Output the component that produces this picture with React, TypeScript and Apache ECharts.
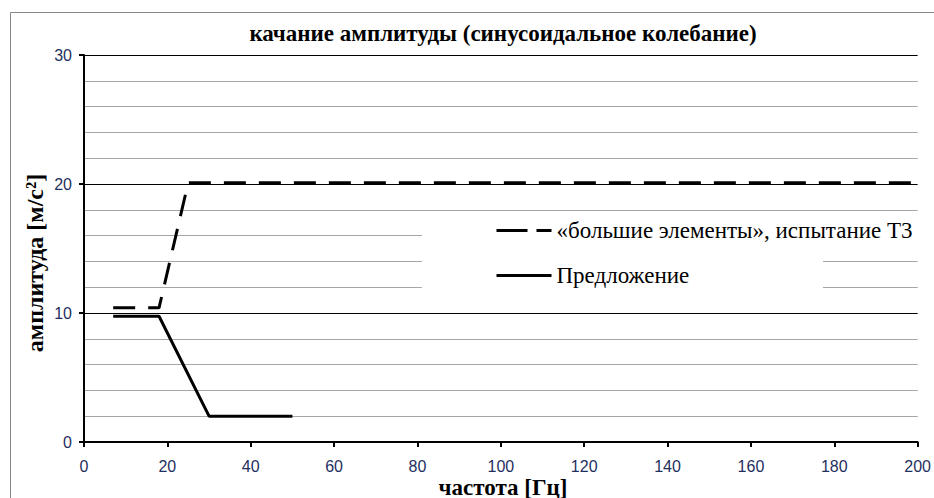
import React, { useEffect, useRef } from "react";
import * as echarts from "echarts";

const titleText = "качание амплитуды (синусоидальное колебание)";
const xAxisName = "частота [Гц]";
const yAxisName = "амплитуда [м/с²]";
const seriesNames = ["«большие элементы», испытание Т3", "Предложение"];

const bigElementsX = [7, 18, 25, 200];
const bigElementsY = [10.4, 10.4, 20.1, 20.1];
const proposalX = [7, 18, 30, 50];
const proposalY = [9.75, 9.75, 2, 2];

const xMin = 0;
const xMax = 200;
const xStep = 20;
const yMin = 0;
const yMax = 30;
const yStep = 10;
const yMinorSplits = 5;

const SERIF = "Liberation Serif";
const SANS = "Liberation Sans";
const TICK_COLOR = "#1f3060";

export default function App() {
  const ref = useRef<HTMLDivElement>(null);

  useEffect(() => {
    document.body.style.margin = "0";
    if (!ref.current) return;
    const chart = echarts.init(ref.current, undefined, { renderer: "svg" });
    const pair = (xs: number[], ys: number[]) => xs.map((x, i) => [x, ys[i]]);

    chart.setOption({
      animation: false,
      backgroundColor: "#ffffff",
      grid: { left: 84, right: 14, top: 55, bottom: 56, containLabel: false },
      xAxis: {
        type: "value",
        min: xMin,
        max: xMax,
        interval: xStep,
        axisLine: { show: true, onZero: false, lineStyle: { color: "#000", width: 2 } },
        axisTick: { show: true, length: 5, lineStyle: { color: "#000", width: 2 } },
        axisLabel: { margin: 16, fontFamily: SANS, fontSize: 16, color: TICK_COLOR },
        splitLine: { show: false },
      },
      yAxis: {
        type: "value",
        min: yMin,
        max: yMax,
        interval: yStep,
        axisLine: { show: true, lineStyle: { color: "#000", width: 2 } },
        axisTick: { show: true, length: 5, lineStyle: { color: "#000", width: 2 } },
        axisLabel: { margin: 12, fontFamily: SANS, fontSize: 16, color: TICK_COLOR },
        splitLine: { show: true, lineStyle: { color: "#000", width: 1 } },
        minorTick: { show: false, splitNumber: yMinorSplits },
        minorSplitLine: { show: true, lineStyle: { color: "#a6a6a6", width: 1 } },
      },
      legend: {
        orient: "vertical",
        left: 495,
        top: 219,
        itemWidth: 55,
        itemHeight: 20,
        itemGap: 22,
        padding: 0,
        backgroundColor: "transparent",
        itemStyle: { opacity: 0, borderWidth: 0 },
        textStyle: { fontFamily: SERIF, fontSize: 23, color: "#000", lineHeight: 20 },
        data: [
          { name: seriesNames[0], itemStyle: { opacity: 0 }, lineStyle: { type: [31, 9], width: 3, color: "#000" } },
          { name: seriesNames[1], itemStyle: { opacity: 0 }, lineStyle: { type: "solid", width: 3, color: "#000" } },
        ],
      },
      graphic: [
        {
          type: "rect",
          z: 0,
          silent: true,
          shape: { x: 10.5, y: 12.5, width: 1000, height: 1000 },
          style: { fill: "none", stroke: "#888888", lineWidth: 1 },
        },
        {
          type: "rect",
          z: 1,
          silent: true,
          shape: { x: 422, y: 216, width: 401, height: 84 },
          style: { fill: "#ffffff" },
        },
        {
          type: "rect",
          z: 1,
          silent: true,
          shape: { x: 823, y: 225, width: 100, height: 22 },
          style: { fill: "#ffffff" },
        },
        {
          type: "text",
          z: 5,
          x: 503,
          y: 33,
          style: {
            text: titleText,
            fontFamily: SERIF,
            fontWeight: "bold",
            fontSize: 23,
            fill: "#000",
            textAlign: "center",
            textVerticalAlign: "middle",
          },
        },
        {
          type: "text",
          z: 5,
          x: 503,
          y: 487,
          style: {
            text: xAxisName,
            fontFamily: SERIF,
            fontWeight: "bold",
            fontSize: 23,
            fill: "#000",
            textAlign: "center",
            textVerticalAlign: "middle",
          },
        },
        {
          type: "text",
          z: 5,
          x: 35,
          y: 263,
          rotation: Math.PI / 2,
          style: {
            text: yAxisName,
            fontFamily: SERIF,
            fontWeight: "bold",
            fontSize: 24,
            fill: "#000",
            textAlign: "center",
            textVerticalAlign: "middle",
          },
        },
      ],
      series: [
        {
          name: seriesNames[0],
          type: "line",
          data: pair(bigElementsX, bigElementsY),
          showSymbol: false,
          symbol: "none",
          lineStyle: { color: "#000", width: 3, type: [22, 13] },
          itemStyle: { color: "#000" },
          z: 3,
        },
        {
          name: seriesNames[1],
          type: "line",
          data: pair(proposalX, proposalY),
          showSymbol: false,
          symbol: "none",
          lineStyle: { color: "#000", width: 3, type: "solid" },
          itemStyle: { color: "#000" },
          z: 3,
        },
      ],
    });
    return () => chart.dispose();
  }, []);

  return <div ref={ref} style={{ width: 934, height: 498 }} />;
}
